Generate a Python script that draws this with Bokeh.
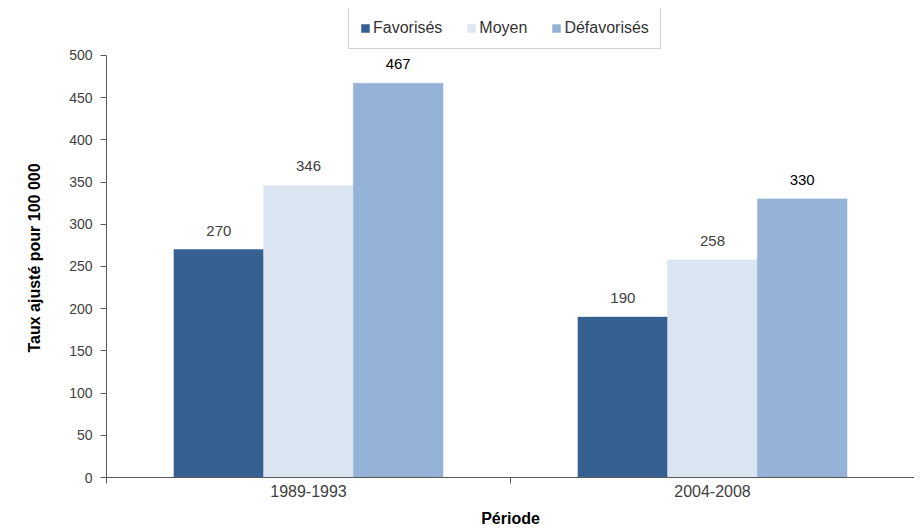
from bokeh.plotting import figure
from bokeh.models import ColumnDataSource, FixedTicker, Legend, LegendItem, Range1d, Title
from bokeh.transform import dodge
from bokeh.core.properties import value
from bokeh.embed import file_html
from bokeh.resources import INLINE

periods = ["1989-1993", "2004-2008"]
series_names = ["Favorisés", "Moyen", "Défavorisés"]
favorises = [270, 190]
moyen = [346, 258]
defavorises = [467, 330]
y_ticks = [0, 50, 100, 150, 200, 250, 300, 350, 400, 450, 500]
y_max = 500
y_title = "Taux ajusté pour 100 000"
x_title = "Période"

colors = ["#376092", "#DCE6F2", "#95B3D7"]
label_colors = ["#404040", "#404040", "#000000"]
offsets = [-0.222, 0.0, 0.222]
bar_w = 0.222
FONT = "Liberation Sans"

# frame spans 8..478 px; axis spans 55..478 px -> headroom for the legend
frame_top, axis_top, frame_bottom = 8, 55, 478
y_end = y_max * (frame_bottom - frame_top) / (frame_bottom - axis_top)

p = figure(width=914, height=529, output_backend="svg", toolbar_location=None,
           x_range=Range1d(0, len(periods)), y_range=Range1d(0, y_end),
           min_border_left=106, min_border_right=0, min_border_top=frame_top,
           min_border_bottom=529 - frame_bottom)
p.outline_line_color = None
p.grid.visible = False
p.background_fill_color = "white"

xs = [i + 0.5 for i in range(len(periods))]
items = []
for name, vals, col, lc, off in zip(series_names, [favorises, moyen, defavorises], colors, label_colors, offsets):
    src = ColumnDataSource(dict(x=xs, top=vals, label=[str(v) for v in vals]))
    r = p.vbar(x=dodge("x", off), top="top", width=bar_w, source=src,
               fill_color=col, line_color=col, line_width=0.5)
    p.text(x=dodge("x", off), y="top", text="label", source=src,
           text_align="center", text_baseline="bottom", y_offset=-14,
           text_font=value(FONT), text_font_size="15px", text_color=lc)
    items.append(LegendItem(label=name, renderers=[r]))

# x axis
xa = p.xaxis[0]
xa.ticker = FixedTicker(ticks=xs, minor_ticks=list(range(len(periods) + 1)))
xa.major_label_overrides = {x: lab for x, lab in zip(xs, periods)}
xa.major_tick_line_color = None
xa.minor_tick_line_color = "#595959"
xa.minor_tick_out = 6
xa.minor_tick_in = 0
xa.axis_line_color = "#595959"
xa.major_label_text_font = FONT
xa.major_label_text_font_size = "16px"
xa.major_label_text_color = "#404040"
xa.major_label_standoff = 1
xa.axis_label = x_title
xa.axis_label_text_font = FONT
xa.axis_label_text_font_style = "bold"
xa.axis_label_text_font_size = "16px"
xa.axis_label_text_color = "#000000"
xa.axis_label_standoff = 10

ya = p.yaxis[0]
ya.ticker = FixedTicker(ticks=y_ticks)
ya.bounds = (0, y_max)
ya.minor_tick_line_color = None
ya.major_tick_line_color = "#595959"
ya.major_tick_out = 6
ya.major_tick_in = 0
ya.axis_line_color = "#595959"
ya.major_label_text_font = FONT
ya.major_label_text_font_size = "14px"
ya.major_label_text_color = "#404040"
ya.major_label_standoff = 8

ytitle = Title(text=y_title, align="left", offset=125, vertical_align="top", standoff=44,
               text_font=FONT, text_font_size="16px", text_font_style="bold",
               text_color="#000000")
p.add_layout(ytitle, "left")

legend = Legend(items=items, orientation="horizontal", location=(242, 428),
                glyph_width=10, glyph_height=10, label_standoff=3, spacing=24,
                padding=11, margin=0,
                label_text_font=FONT, label_text_font_size="16px", label_text_color="#333333",
                border_line_color="#a6a6a6", border_line_width=1,
                background_fill_color="white", background_fill_alpha=1)
p.add_layout(legend, "center")

open("out.html", "w").write(file_html(p, INLINE))
